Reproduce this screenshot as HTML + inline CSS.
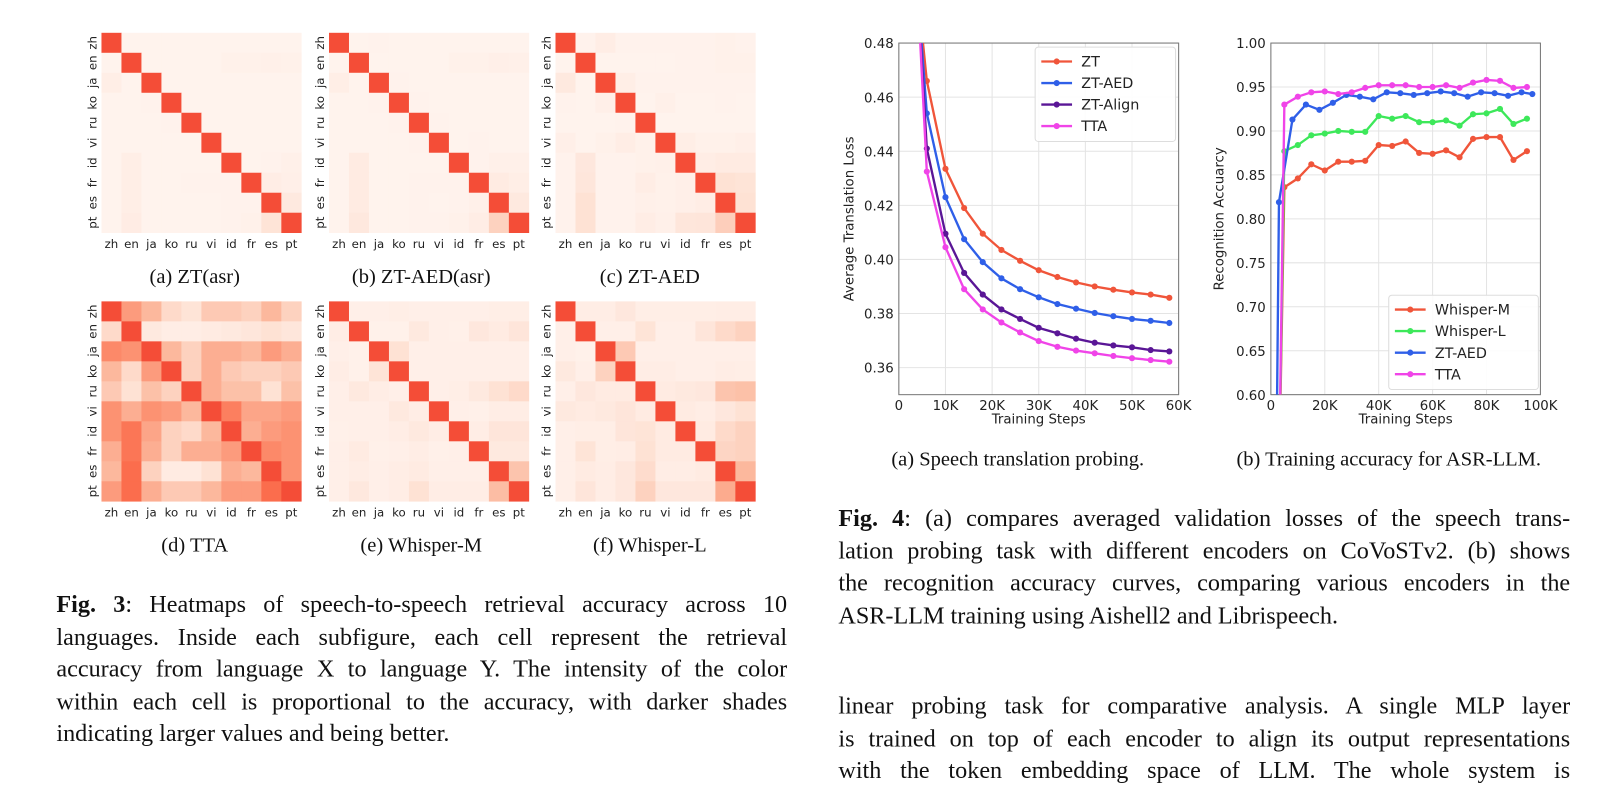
<!DOCTYPE html>
<html><head><meta charset="utf-8"><style>
html,body{margin:0;padding:0;background:#fff;overflow:hidden;width:1605px;height:777px}
#wrap{position:absolute;left:0;top:0;width:1566px;height:758px;transform-origin:0 0;transform:scale(1.0249,1.0251)}
.sans{font-family:"DejaVu Sans","Liberation Sans",sans-serif}
.para{position:absolute;font-family:"Liberation Serif",serif;font-size:23.6px;line-height:31.5px;color:#111}
.para div{text-align:justify;text-align-last:justify;white-space:nowrap;height:31.5px}
.para div.last{text-align-last:left}
.cap{position:absolute;font-family:"Liberation Serif",serif;font-size:20px;color:#111;white-space:nowrap;transform:translateX(-50%)}
</style></head><body>
<div id="wrap">
<svg id="hm" width="780" height="520" style="position:absolute;left:0;top:0"></svg>
<div class="cap" style="left:190px;top:259px">(a) ZT(asr)</div>
<div class="cap" style="left:411px;top:259px">(b) ZT-AED(asr)</div>
<div class="cap" style="left:634px;top:259px">(c) ZT-AED</div>
<div class="cap" style="left:190px;top:521px">(d) TTA</div>
<div class="cap" style="left:411px;top:521px">(e) Whisper-M</div>
<div class="cap" style="left:634px;top:521px">(f) Whisper-L</div>
<div class="para" style="left:55px;top:575px;width:713px">
<div><b>Fig. 3</b>: Heatmaps of speech-to-speech retrieval accuracy across 10</div>
<div>languages. Inside each subfigure, each cell represent the retrieval</div>
<div>accuracy from language X to language Y. The intensity of the color</div>
<div>within each cell is proportional to the accuracy, with darker shades</div>
<div class="last">indicating larger values and being better.</div>
</div>
<svg id="c1" width="370" height="420" style="position:absolute;left:800px;top:20px"></svg>
<svg id="c2" width="380" height="420" style="position:absolute;left:1170px;top:20px"></svg>
<div class="cap" style="left:993px;top:437px">(a) Speech translation probing.</div>
<div class="cap" style="left:1355px;top:437px">(b) Training accuracy for ASR-LLM.</div>
<div class="para" style="left:818px;top:491px;width:714px">
<div><b>Fig. 4</b>: (a) compares averaged validation losses of the speech trans-</div>
<div>lation probing task with different encoders on CoVoSTv2. (b) shows</div>
<div>the recognition accuracy curves, comparing various encoders in the</div>
<div class="last">ASR-LLM training using Aishell2 and Librispeech.</div>
</div>
<div class="para" style="left:818px;top:674px;width:714px">
<div>linear probing task for comparative analysis. A single MLP layer</div>
<div>is trained on top of each encoder to align its output representations</div>
<div>with the token embedding space of LLM. The whole system is</div>
</div>
</div>
<script>
const NS="http://www.w3.org/2000/svg";
function mk(p,t,a){const e=document.createElementNS(NS,t);for(const k in a)e.setAttribute(k,a[k]);p.appendChild(e);return e;}
const langs=["zh","en","ja","ko","ru","vi","id","fr","es","pt"];
const mZTasr=[[1,.02,.02,.02,.02,.02,.02,.02,.02,.02],[.02,1,.02,.02,.02,.02,.04,.04,.05,.04],[.07,.02,1,.02,.02,.02,.02,.02,.02,.02],[.02,.02,.03,1,.02,.02,.02,.02,.02,.02],[.02,.02,.02,.03,1,.02,.02,.02,.02,.02],[.02,.02,.02,.02,.02,1,.02,.02,.02,.02],[.02,.07,.02,.02,.02,.02,1,.02,.03,.05],[.02,.07,.02,.02,.03,.03,.03,1,.08,.06],[.02,.07,.02,.02,.02,.02,.03,.03,1,.12],[.02,.09,.02,.02,.02,.02,.03,.04,.18,1]];
const mZTaed=[[1,.02,.03,.02,.02,.02,.02,.02,.02,.02],[.02,1,.02,.02,.02,.02,.04,.04,.06,.05],[.07,.02,1,.03,.02,.02,.02,.02,.02,.02],[.02,.02,.03,1,.03,.02,.02,.02,.02,.02],[.02,.02,.02,.03,1,.03,.02,.02,.02,.02],[.02,.02,.02,.02,.03,1,.02,.03,.02,.02],[.02,.1,.02,.02,.02,.02,1,.03,.05,.05],[.02,.1,.02,.02,.03,.03,.03,1,.1,.07],[.02,.1,.02,.02,.03,.02,.03,.05,1,.12],[.02,.13,.02,.02,.03,.03,.04,.08,.3,1]];
const mZTAED=[[1,.03,.08,.03,.03,.03,.03,.03,.04,.03],[.02,1,.02,.02,.02,.02,.03,.03,.04,.04],[.12,.02,1,.07,.03,.03,.03,.03,.03,.03],[.03,.02,.06,1,.02,.05,.02,.02,.03,.02],[.02,.02,.02,.03,1,.02,.02,.02,.02,.02],[.06,.02,.04,.08,.04,1,.07,.04,.04,.06],[.03,.14,.03,.03,.04,.05,1,.08,.1,.1],[.03,.15,.03,.03,.08,.04,.06,1,.2,.18],[.03,.2,.03,.03,.05,.04,.06,.08,1,.2],[.03,.2,.03,.03,.08,.05,.15,.16,.32,1]];
const mTTA=[[1,.6,.45,.25,.18,.35,.35,.3,.45,.3],[.25,1,.12,.08,.08,.1,.12,.15,.2,.15],[.7,.65,1,.45,.3,.5,.5,.45,.6,.5],[.45,.25,.6,1,.3,.5,.35,.3,.3,.35],[.35,.2,.4,.3,1,.5,.4,.4,.2,.4],[.65,.5,.65,.6,.45,1,.75,.55,.55,.6],[.65,.8,.55,.3,.25,.45,1,.5,.6,.65],[.5,.8,.5,.3,.5,.5,.6,1,.7,.65],[.45,.85,.3,.1,.1,.2,.5,.45,1,.65],[.6,.85,.5,.35,.35,.45,.6,.6,.85,1]];
const mWM=[[1,.06,.06,.07,.06,.06,.06,.06,.07,.07],[.08,1,.04,.04,.12,.06,.05,.14,.1,.16],[.06,.04,1,.2,.06,.06,.06,.06,.06,.06],[.08,.04,.18,1,.06,.06,.06,.06,.06,.06],[.06,.12,.08,.06,1,.06,.07,.12,.2,.25],[.06,.06,.06,.12,.08,1,.06,.05,.08,.08],[.05,.06,.06,.08,.12,.08,1,.08,.16,.16],[.06,.1,.05,.06,.08,.05,.06,1,.12,.12],[.06,.08,.06,.08,.1,.06,.06,.06,1,.38],[.06,.13,.06,.08,.2,.08,.08,.08,.42,1]];
const mWL=[[1,.08,.08,.14,.07,.07,.07,.07,.08,.08],[.06,1,.06,.06,.18,.06,.06,.16,.25,.3],[.06,.04,1,.35,.06,.06,.06,.06,.06,.06],[.12,.06,.3,1,.08,.08,.06,.06,.08,.07],[.06,.14,.1,.1,1,.1,.12,.14,.38,.4],[.12,.1,.12,.16,.1,1,.1,.08,.14,.2],[.06,.07,.07,.16,.18,.1,1,.1,.25,.3],[.06,.18,.07,.08,.2,.1,.1,1,.28,.3],[.06,.1,.08,.14,.24,.08,.08,.1,1,.45],[.06,.16,.08,.14,.3,.14,.14,.14,.52,1]];
const stops=[[255,245,240],[254,224,210],[252,187,161],[252,146,114],[251,106,74],[239,59,44],[203,24,29]];
function reds(v){let t=v*0.77*6;let i=Math.min(5,Math.floor(t));let f=t-i;const a=stops[i],b=stops[i+1];return `rgb(${a.map((c,k)=>Math.round(c+(b[k]-c)*f)).join(",")})`;}
const hm=document.getElementById('hm');
const panels=[[mZTasr,99,32],[mZTaed,321,32],[mZTAED,542,32],[mTTA,99,294],[mWM,321,294],[mWL,542,294]];
const cs=19.5;
panels.forEach(([m,x0,y0],pi)=>{
  const g=mk(hm,'g',{});
  
  
  m.forEach((row,r)=>row.forEach((v,c)=>{
    const cell=mk(g,'rect',{x:x0+c*cs,y:y0+r*cs,width:cs+0.3,height:cs+0.3,fill:reds(v)});
    
    
  }));
  langs.forEach((l,i)=>{
    const xt=mk(g,'text',{x:x0+i*cs+cs/2,y:y0+10*cs+15,'text-anchor':'middle','font-size':11.5,fill:'#222',class:'sans'});xt.textContent=l;
    
    
    const yy=y0+i*cs+cs/2;
    const yt=mk(g,'text',{x:x0-5,y:yy,'text-anchor':'middle','font-size':11.5,fill:'#222',class:'sans',transform:`rotate(-90 ${x0-5} ${yy})`});yt.textContent=l;
    
    
  });
});

/* Chart 1 data */
const c1Steps=[4,6,10,14,18,22,26,30,34,38,42,46,50,54,58];
const c1ZT=[0.50,.466,.4335,.419,.4095,.4035,.3995,.396,.3935,.3915,.39,.3888,.3878,.387,.3858];
const c1AED=[0.50,.454,.423,.4075,.399,.393,.389,.386,.3835,.3818,.3802,.379,.378,.3773,.3765];
const c1Align=[0.50,.441,.4095,.395,.387,.3815,.378,.3747,.3727,.3707,.3692,.3682,.3675,.3665,.366];
const c1TTA=[0.50,.4325,.4045,.389,.3815,.3767,.373,.3698,.3677,.3663,.3653,.3643,.3635,.3628,.3622];
const c1YTicks=[0.36,0.38,0.40,0.42,0.44,0.46,0.48];
const c1XTicks=[0,10,20,30,40,50,60];
/* Chart 2 data */
const c2StepsA=[3,5,10,15,20,25,30,35,40,45,50,55,60,65,70,75,80,85,90,95];
const c2WM=[0.5,.836,.846,.862,.855,.865,.865,.866,.884,.883,.888,.875,.874,.878,.870,.891,.893,.893,.867,.877];
const c2WL=[0.5,.877,.884,.895,.897,.900,.899,.899,.917,.914,.917,.910,.910,.912,.906,.919,.920,.925,.908,.914];
const c2TTA=[0.5,.930,.939,.944,.945,.942,.944,.949,.952,.952,.952,.950,.950,.952,.949,.955,.958,.957,.949,.950];
const c2StepsB=[2,3,8,13,18,23,28,33,38,43,48,53,58,63,68,73,78,83,88,93,97];
const c2AED=[0.5,.819,.913,.930,.924,.932,.941,.939,.936,.944,.943,.941,.943,.945,.943,.939,.944,.943,.940,.944,.942];
const c2YTicks=[0.60,0.65,0.70,0.75,0.80,0.85,0.90,0.95,1.00];
const c2XTicks=[0,20,40,60,80,100];

function chart(svg,o){
  const L=o.L,R=o.R,T=o.T,B=o.B;
  const sx=v=>L+(v-o.x0)/(o.x1-o.x0)*(R-L);
  const sy=v=>B-(v-o.y0)/(o.y1-o.y0)*(B-T);
  const cid='clip'+o.id;
  const d=mk(svg,'defs',{});const cp=mk(d,'clipPath',{id:cid});mk(cp,'rect',{x:L,y:T,width:R-L,height:B-T});
  o.xt.forEach(v=>{mk(svg,'line',{x1:sx(v),x2:sx(v),y1:T,y2:B,stroke:'#e4e4e4','stroke-width':1});
    const t=mk(svg,'text',{x:sx(v),y:B+15,'text-anchor':'middle','font-size':13,fill:'#222',class:'sans'});t.textContent=v===0?'0':v+'K';
    
    });
  o.yt.forEach(v=>{mk(svg,'line',{x1:L,x2:R,y1:sy(v),y2:sy(v),stroke:'#e4e4e4','stroke-width':1});
    const t=mk(svg,'text',{x:L-5,y:sy(v)+5,'text-anchor':'end','font-size':13,fill:'#222',class:'sans'});t.textContent=v.toFixed(2);
    
    });
  mk(svg,'rect',{x:L,y:T,width:R-L,height:B-T,fill:'none',stroke:'#777','stroke-width':1});
  const xl=mk(svg,'text',{x:(L+R)/2,y:B+28,'text-anchor':'middle','font-size':13,fill:'#222',class:'sans'});xl.textContent='Training Steps';
  
  
  const yx=o.ylx,yy=(T+B)/2;
  const yl=mk(svg,'text',{x:yx,y:yy,'text-anchor':'middle','font-size':13,fill:'#222',class:'sans',transform:`rotate(-90 ${yx} ${yy})`});yl.textContent=o.ylab;
  
  
  o.series.forEach(s=>{
    const g=mk(svg,'g',{'clip-path':`url(#${cid})`});
    
    
    mk(g,'polyline',{points:s.x.map((x,i)=>sx(x)+','+sy(s.y[i])).join(' '),fill:'none',stroke:s.c,'stroke-width':2.3});
    s.x.forEach((x,i)=>{const p=mk(g,'circle',{cx:sx(x),cy:sy(s.y[i]),r:3,fill:s.c});
      
      });
  });
  const lg=mk(svg,'g',{});
  
  
  mk(lg,'rect',{x:o.lgx,y:o.lgy,width:o.lgw,height:o.series.length*21+8,fill:'#fff','fill-opacity':0.9,stroke:'#ddd',rx:3});
  o.series.forEach((s,i)=>{const y=o.lgy+14+i*21;
    mk(lg,'line',{x1:o.lgx+6,x2:o.lgx+36,y1:y,y2:y,stroke:s.c,'stroke-width':2.3});
    mk(lg,'circle',{cx:o.lgx+21,cy:y,r:3,fill:s.c});
    const t=mk(lg,'text',{x:o.lgx+45,y:y+5,'font-size':14,fill:'#222',class:'sans'});t.textContent=s.name;
    
    });
}
chart(document.getElementById('c1'),{id:1,L:77,R:350,T:22,B:365,x0:0,x1:60,y0:0.35,y1:0.48,xt:c1XTicks,yt:c1YTicks,ylab:'Average Translation Loss',ylx:33,
 lgx:210,lgy:26,lgw:137,series:[{name:'ZT',c:'#f0553a',x:c1Steps,y:c1ZT},{name:'ZT-AED',c:'#2f5fe8',x:c1Steps,y:c1AED},{name:'ZT-Align',c:'#5a1696',x:c1Steps,y:c1Align},{name:'TTA',c:'#f044e8',x:c1Steps,y:c1TTA}]});
chart(document.getElementById('c2'),{id:2,L:70,R:333,T:22,B:365,x0:0,x1:100,y0:0.60,y1:1.00,xt:c2XTicks,yt:c2YTicks,ylab:'Recognition Accuarcy',ylx:24,
 lgx:185,lgy:268,lgw:146,series:[{name:'Whisper-M',c:'#f0553a',x:c2StepsA,y:c2WM},{name:'Whisper-L',c:'#3de85a',x:c2StepsA,y:c2WL},{name:'ZT-AED',c:'#2f5fe8',x:c2StepsB,y:c2AED},{name:'TTA',c:'#f044e8',x:c2StepsA,y:c2TTA}]});
</script>
</body></html>
